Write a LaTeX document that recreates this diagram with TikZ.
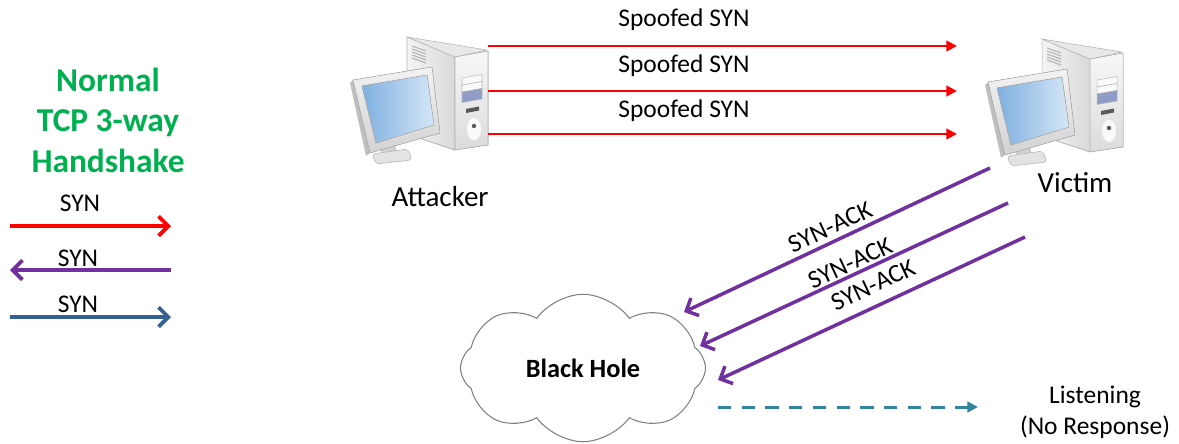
\documentclass[tikz,border=0pt]{standalone}
\usepackage{fontspec}
\setmainfont{Carlito}
\usetikzlibrary{arrows.meta,shapes.symbols}
\definecolor{synred}{HTML}{FF0000}
\definecolor{ackpurple}{HTML}{7030A0}
\definecolor{legendblue}{HTML}{376092}
\definecolor{listenteal}{HTML}{31859C}
\definecolor{titlegreen}{HTML}{00B050}
\definecolor{cloudgray}{HTML}{808080}
\definecolor{scrdark}{HTML}{7FB0E0}
\definecolor{scrlight}{HTML}{D4E6F6}
\definecolor{baypanel}{HTML}{8E9CC6}
\tikzset{
  msg/.style={font=\fontsize{14.5}{17}\selectfont,inner sep=0pt},
  hostlbl/.style={font=\fontsize{16.5}{20}\selectfont,inner sep=0pt},
  spoof/.style={-{Triangle[length=6pt,width=6pt]},line width=1.2pt,synred},
  synack/.style={-{Straight Barb[length=5.5pt,width=11pt]},line width=2pt,ackpurple},
  legendarr/.style={-{Straight Barb[length=5.5pt,width=11pt]},line width=2.2pt},
  listen/.style={-{Triangle[length=6pt,width=6pt]},dash pattern=on 7.5pt off 6pt,line width=1.7pt,listenteal}
}
% desktop pc: tower behind, monitor in front
\newcommand{\PCicon}[1]{%
  \begin{scope}[shift={(#1)}]
    \filldraw[left color=gray!8,right color=gray!30,draw=gray!60,line width=0.3pt]
      (57,7) -- (105,27) -- (105,120) -- (57,104) -- cycle;
    \filldraw[top color=gray!6,bottom color=gray!28,draw=gray!60,line width=0.3pt]
      (105,27) -- (138,21) -- (138,115) -- (105,120) -- cycle;
    \filldraw[fill=gray!18,draw=gray!60,line width=0.3pt] (57,7) -- (137,20) -- (105,27) -- cycle;
    \foreach \k in {0,...,4}
      \draw[gray!60,line width=0.6pt] (62,16+3*\k) -- (76,21+3*\k);
    \filldraw[fill=gray!4,draw=gray!55,line width=0.3pt] (112,48) -- (132,44.5) -- (132,51.5) -- (112,55) -- cycle;
    \filldraw[fill=gray!4,draw=gray!55,line width=0.3pt] (112,55) -- (132,51.5) -- (132,58.5) -- (112,62) -- cycle;
    \filldraw[fill=baypanel,draw=gray!55,line width=0.3pt] (112,62) -- (132,58.5) -- (132,69) -- (112,72.5) -- cycle;
    \fill[gray!70!black] (116,79) -- (129,76.5) -- (129,80.5) -- (116,83) -- cycle;
    \fill[gray!4] (124,99) ellipse (7 and 11);
    \fill[gray!70!black] (124,96) circle (2.2);
    % stand
    \filldraw[fill=gray!35,draw=gray!60,line width=0.3pt] (30,112) -- (44,108) -- (46,124) -- (32,126) -- cycle;
    \filldraw[fill=gray!22,draw=gray!60,line width=0.3pt,rounded corners=2pt]
      (22,124) -- (58,119) -- (62,130) -- (26,134) -- cycle;
    % monitor
    \fill[gray!50] (3,50) -- (0,53) -- (16,126) -- (20,123) -- cycle;
    \filldraw[top color=gray!10,bottom color=gray!35,draw=gray!60,line width=0.3pt]
      (3,50) -- (82,37) -- (90,103) -- (20,123) -- cycle;
    \filldraw[left color=scrdark,right color=scrlight,draw=gray!60,line width=0.3pt]
      (12,56) -- (77,45) -- (84,95) -- (26,113) -- cycle;
  \end{scope}}

\begin{document}
\begin{tikzpicture}[x=0.02cm,y=-0.02cm]
  \useasboundingbox (0,0) rectangle (1179,443);

  % legend
  \node[font=\bfseries\fontsize{19}{23}\selectfont,text=titlegreen,align=center] (title) at (108,120)
    {Normal\\TCP 3-way\\Handshake};
  \coordinate (l1) at (10,226);  \coordinate (r1) at (171,226);
  \coordinate (l2) at (10,270);  \coordinate (r2) at (171,270);
  \coordinate (l3) at (10,317);  \coordinate (r3) at (171,317);
  \node[msg] (syn1) at (80,203) {SYN};
  \node[msg] (syn2) at (78,258) {SYN};
  \node[msg] (syn3) at (78,304) {SYN};
  \draw[legendarr,synred] (l1) -- (r1);
  \draw[legendarr,ackpurple] (r2) -- (l2);
  \draw[legendarr,legendblue] (l3) -- (r3);

  % hosts
  \PCicon{350,30}
  \PCicon{985,32}
  \node[hostlbl] (attacker) at (440,197) {Attacker};
  \node[hostlbl] (victim) at (1075,183) {Victim};

  % spoofed syn flood
  \foreach \i/\y in {1/46,2/91,3/134} {
    \coordinate (a\i) at (488,\y);
    \coordinate (v\i) at (957,\y);
    \draw[spoof] (a\i) -- (v\i);
  }
  \node[msg] (sp1) at (684,20) {Spoofed SYN};
  \node[msg] (sp2) at (684,66) {Spoofed SYN};
  \node[msg] (sp3) at (684,111) {Spoofed SYN};

  % black hole
  \node[cloud,draw=cloudgray,line width=0.6pt,cloud puffs=8,cloud puff arc=110,aspect=1.7,
        minimum width=4.9cm,minimum height=2.95cm,font=\bfseries\fontsize{15}{18}\selectfont] (hole) at (583,368) {Black Hole};

  % syn-ack replies
  \coordinate (s1) at (990,168);  \coordinate (e1) at (684,312);
  \coordinate (s2) at (1008,203); \coordinate (e2) at (700,346);
  \coordinate (s3) at (1025,237); \coordinate (e3) at (718,380);
  \foreach \i in {1,2,3}
    \draw[synack] (s\i) -- (e\i);
  \node[msg,rotate=25] (ack1) at (830,227) {SYN-ACK};
  \node[msg,rotate=25] (ack2) at (850,263) {SYN-ACK};
  \node[msg,rotate=25] (ack3) at (873,285) {SYN-ACK};

  % listening
  \coordinate (d1) at (718,407);
  \coordinate (d2) at (978,407);
  \draw[listen] (d1) -- (d2);
  \node[msg,align=center,font=\fontsize{14.5}{17.6}\selectfont] (lst) at (1095,412) {Listening\\(No Response)};
\end{tikzpicture}
\end{document}
